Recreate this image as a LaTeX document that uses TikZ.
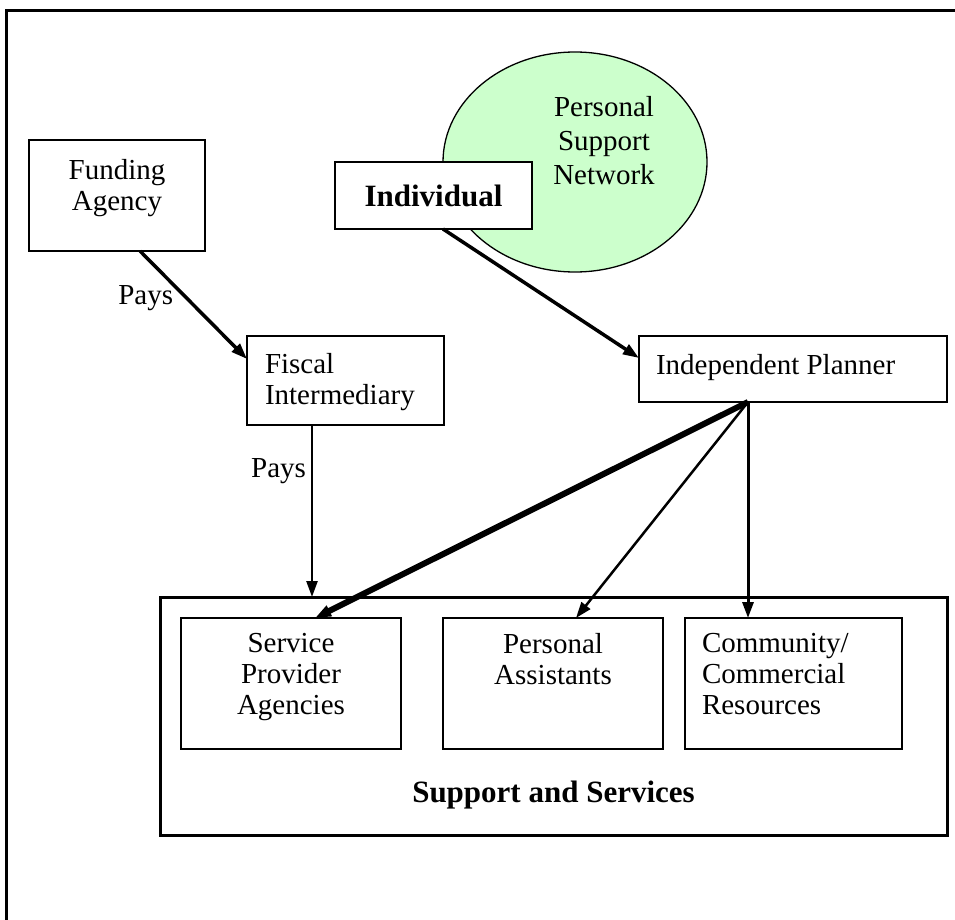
\documentclass[tikz,border=0pt]{standalone}
\usepackage{fontspec}
\setmainfont{Liberation Serif}
\usetikzlibrary{positioning,arrows.meta,shapes.geometric}
\definecolor{psngreen}{HTML}{CCFFCC}

\begin{document}
\begin{tikzpicture}
  [x=1pt,y=-1pt,every node/.style={inner sep=0pt,outer sep=0pt},
   font=\fontsize{29}{31}\selectfont]
  \tikzstyle{box} = [draw,line width=1.8pt,fill=white]
  \tikzstyle{arr} = [-{Triangle[length=16pt,width=11pt]}]
  \useasboundingbox (0,0) rectangle (955,920);
  \draw[line width=3pt] (956,11) -- (6,11) -- (6,921);

  % top part
  \node[ellipse,draw,line width=1.3pt,fill=psngreen,minimum width=264pt,minimum height=220pt] (psn) at (575,162) {};
  \node[align=center,font=\fontsize{29}{34}\selectfont] at ([xshift=29pt,yshift=21pt]psn.center) {Personal\\Support\\Network};
  \node[box,minimum width=176pt,minimum height=111pt] (fund) at (117,195.5) {};
  \node[align=center,below=19pt of fund.north] {Funding\\Agency};
  \node[box,minimum width=197pt,minimum height=67pt,font=\fontsize{31}{34}\selectfont\bfseries] (indiv) at (433.5,195.5) {Individual};
  \node[box,minimum width=197pt,minimum height=89pt] (fiscal) at (345.5,380.5) {};
  \node[align=left,below right=17pt and 18pt of fiscal.north west] {Fiscal\\Intermediary};
  \node[box,minimum width=308pt,minimum height=66pt] (planner) at (793,369) {};
  \node[below right=18pt and 17pt of planner.north west] {Independent Planner};

  % support and services
  \node[box,line width=3pt,fill=none,minimum width=787pt,minimum height=238pt] (sup) at (553.5,716) {};
  \node[font=\fontsize{31}{34}\selectfont\bfseries,above=26pt of sup.south] {Support and Services};
  \node[box,minimum width=220pt,minimum height=131pt] (spa) at (291,683.5) {};
  \node[align=center,below=15pt of spa.north] {Service\\Provider\\Agencies};
  \node[box,minimum width=220pt,minimum height=131pt] (pa) at (553,683.5) {};
  \node[align=center,below=15pt of pa.north] {Personal\\Assistants};
  \node[box,minimum width=217pt,minimum height=131pt] (ccr) at (793.5,683.5) {};
  \node[align=left,below right=15pt and 17pt of ccr.north west] {Community/\\Commercial\\Resources};

  \draw[arr,line width=3.5pt] ([xshift=23pt]fund.south) -- node[pos=.44,left=14pt] {Pays} ([yshift=-23pt]fiscal.north west);
  \draw[arr,line width=3.5pt] ([xshift=9.5pt]indiv.south) -- ([yshift=-22pt]planner.north west);
  \draw[arr,line width=2.5pt] ([xshift=-33.5pt]fiscal.south) coordinate (fp) -- node[pos=.27,left=6pt] {Pays} (fp |- sup.north);

  \coordinate (hub) at ([xshift=-45pt]planner.south);
\foreach \dest/\dx/\wd in {spa/24/6,pa/23/2.5,ccr/-45.5/3}
   \draw[arr,line width=\wd pt] (hub) -- ([xshift=\dx pt]\dest.north);

\end{tikzpicture}
\end{document}
